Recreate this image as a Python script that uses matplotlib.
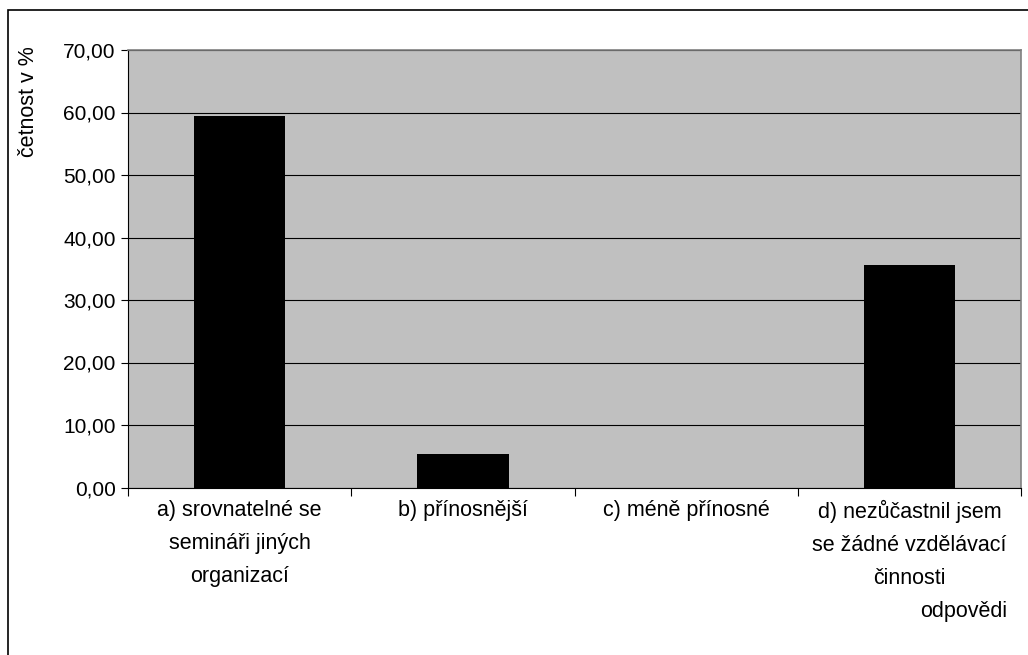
import matplotlib.pyplot as plt
from matplotlib.patches import Rectangle

plt.rcParams['font.family'] = ['Liberation Sans', 'DejaVu Sans']

categories = ['a) srovnatelné se\nsemináři jiných\norganizací',
              'b) přínosnější',
              'c) méně přínosné',
              'd) nezůčastnil jsem\nse žádné vzdělávací\nčinnosti']
values = [59.45, 5.3, 0.0, 35.65]
yticks = [0, 10, 20, 30, 40, 50, 60, 70]

fig = plt.figure(figsize=(10.28, 6.55), dpi=100)
ax = fig.add_axes([128 / 1028, 1 - 487.5 / 655, 893 / 1028, 437.5 / 655])

ax.set_facecolor('#C0C0C0')
ax.bar(range(len(values)), values, width=0.41, color='black', zorder=3)

ax.set_xlim(-0.5, len(values) - 0.5)
ax.set_ylim(0, 70)
ax.set_yticks(yticks)
ax.set_yticklabels([('%.2f' % v).replace('.', ',') for v in yticks])
ax.yaxis.grid(True, color='black', linewidth=0.8)
ax.set_axisbelow(True)

ax.set_xticks(range(len(values)))
ax.set_xticklabels(categories, fontsize=15.5, linespacing=1.75, va='top')
ax.set_xticks([i - 0.5 for i in range(len(values) + 1)], minor=True)
ax.tick_params(axis='x', which='major', length=0, pad=9)
ax.tick_params(axis='x', which='minor', length=6, direction='out', width=0.8)
ax.tick_params(axis='y', length=5, direction='out', width=0.8, labelsize=15, pad=4)

for s in ['left', 'bottom']:
    ax.spines[s].set_color('black')
    ax.spines[s].set_linewidth(0.8)
for s in ['top', 'right']:
    ax.spines[s].set_color('#808080')
    ax.spines[s].set_linewidth(1.2)

fig.text(29 / 1028, 1 - 102 / 655, 'četnost v %', rotation=90, fontsize=15.5,
         ha='center', va='center')
fig.text(1007 / 1028, 1 - 612 / 655, 'odpovědi', fontsize=15.5, ha='right', va='center')

fig.patches.append(Rectangle((8 / 1028, -0.05), 1.1, 1 - 10 / 655 + 0.05,
                             transform=fig.transFigure, fill=False,
                             edgecolor='black', linewidth=1.2))

fig.savefig('out.png', dpi=100)
